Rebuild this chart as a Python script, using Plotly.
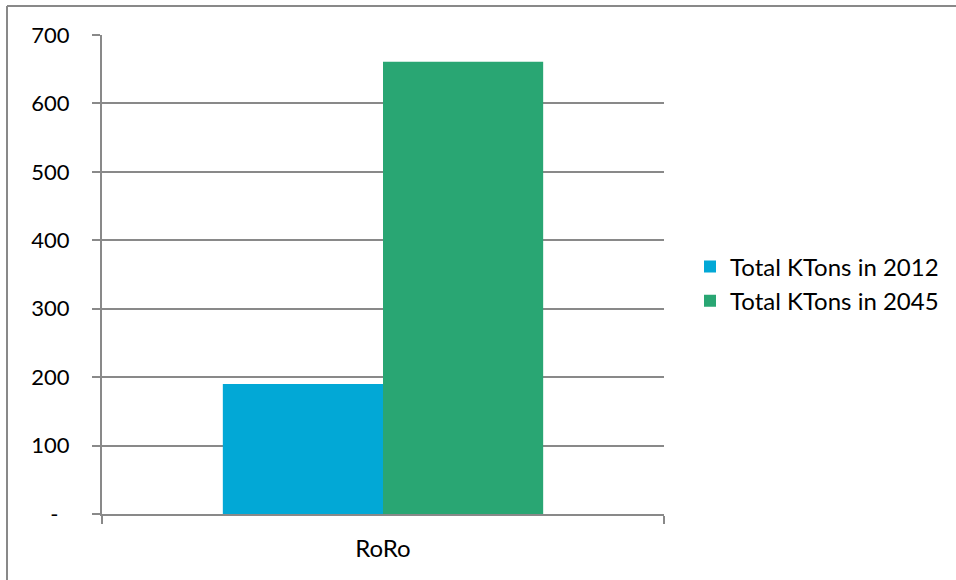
import plotly.graph_objects as go

categories = ["RoRo"]
series_names = ["Total KTons in 2012", "Total KTons in 2045"]
values_2012 = [190]
values_2045 = [661]
y_tickvals = [0, 100, 200, 300, 400, 500, 600, 700]
y_ticktext = ["-\u00a0\u00a0", "100", "200", "300", "400", "500", "600", "700"]

colors = ["#02A8D6", "#29A673"]
FONT = "Lato"
GRAY = "#898989"

fig = go.Figure()
fig.add_trace(go.Bar(x=categories, y=values_2012, name=series_names[0], marker=dict(color=colors[0], line=dict(width=0))))
fig.add_trace(go.Bar(x=categories, y=values_2045, name=series_names[1], marker=dict(color=colors[1], line=dict(width=0))))

W, H = 956, 580
L, R, T, B = 102, 292, 35, 66
pw = W - L - R
ph = H - T - B

def px_x(x):
    return (x - L) / pw

def px_y(y):
    return (H - B - y) / ph

fig.update_layout(
    width=W, height=H,
    margin=dict(l=L, r=R, t=T, b=B, pad=0),
    paper_bgcolor="white", plot_bgcolor="white",
    font=dict(family=FONT, size=24, color="#000000"),
    barmode="group", bargap=0.43, bargroupgap=0,
    showlegend=True,
    legend=dict(x=px_x(690), y=px_y(284), xanchor="left", yanchor="middle",
                font=dict(family=FONT, size=24, color="#000000"),
                bgcolor="rgba(0,0,0,0)", tracegroupgap=0, itemsizing="constant"),
    xaxis=dict(showgrid=False, showline=True, linecolor=GRAY, linewidth=2,
               ticks="outside", tickson="boundaries", ticklen=8, tickcolor=GRAY, tickwidth=2,
               ticklabelstandoff=12,
               tickfont=dict(family=FONT, size=24, color="#000000"), fixedrange=True),
    yaxis=dict(range=[0, 700], tickvals=y_tickvals, ticktext=y_ticktext,
               showgrid=True, gridcolor=GRAY, gridwidth=1.5,
               showline=True, linecolor=GRAY, linewidth=2,
               ticks="outside", ticklen=8, tickcolor=GRAY, tickwidth=2,
               ticklabelstandoff=18, zeroline=False,
               tickfont=dict(family=FONT, size=22, color="#000000"), fixedrange=True),
    shapes=[
        dict(type="line", xref="paper", yref="paper", x0=px_x(7), x1=px_x(960), y0=px_y(6), y1=px_y(6),
             line=dict(color=GRAY, width=2)),
        dict(type="line", xref="paper", yref="paper", x0=px_x(7), x1=px_x(7), y0=px_y(6), y1=px_y(585),
             line=dict(color=GRAY, width=2)),
    ],
)

fig.write_html("out.html", config={"displayModeBar": False},
               post_script="document.body.style.margin='0';")
